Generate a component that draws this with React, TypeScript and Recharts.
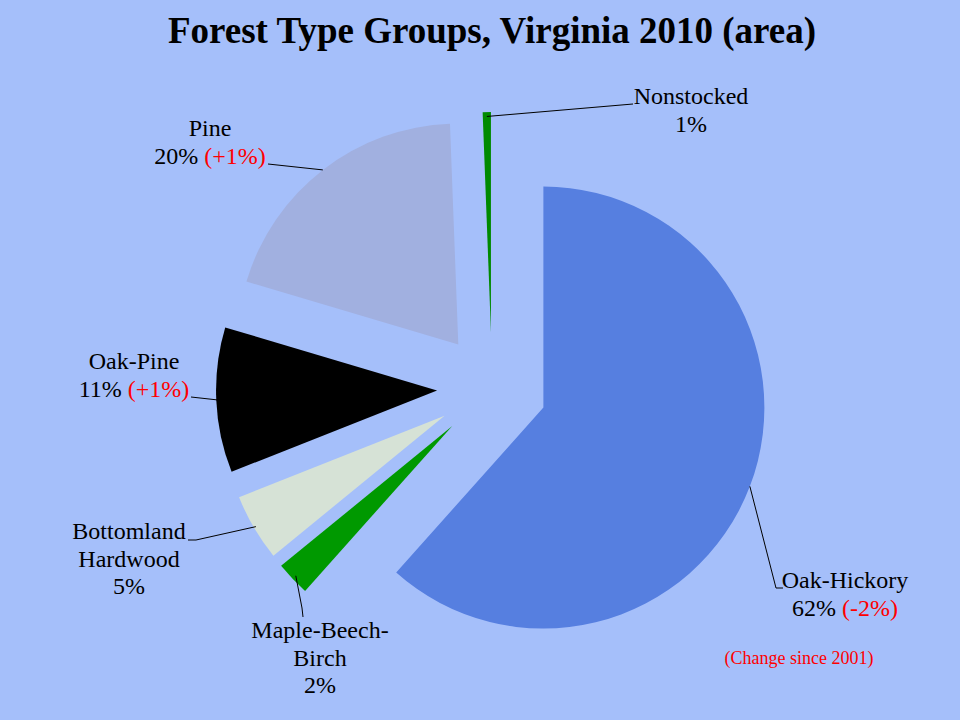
import { PieChart, Pie, Cell } from "recharts";

// forest type groups, clockwise from 12 o'clock
const categories = ["Oak-Hickory", "Maple-Beech-Birch", "Bottomland Hardwood", "Oak-Pine", "Pine", "Nonstocked"];
const areaShare = [61.6, 2.5, 4.9, 10.6, 19.8, 0.6];
const shareLabels = ["62%", "2%", "5%", "11%", "20%", "1%"];
const changeLabels = ["(-2%)", "", "", "(+1%)", "(+1%)", ""];
const nameLines = [["Oak-Hickory"], ["Maple-Beech-", "Birch"], ["Bottomland", "Hardwood"], ["Oak-Pine"], ["Pine"], ["Nonstocked"]];

const sliceColors = ["#567fe0", "#009900", "#d6e2d6", "#000000", "#a1b0e0", "#008a00"];
const BG = "#a5bffa";
const FONT = "'Liberation Serif', 'Times New Roman', serif";

const CX = 492;
const CY = 388;
const R = 221;
const EXPLODE = 55;
const RAD = Math.PI / 180;
const LINE_H = 27.7;

const pieData = categories.map((name, i) => ({ name, value: areaShare[i] }));

const total = areaShare.reduce((a, b) => a + b, 0);
const midAngles = areaShare.map((v, i) => {
  const before = areaShare.slice(0, i).reduce((a, b) => a + b, 0);
  return 90 - (360 * (before + v / 2)) / total;
});

// where each label sits and the text-side end of its leader line
const labelLayout = [
  { x: 845, y: 588, line: [[783, 588], [776, 588]], k: 1.0 },
  { x: 320, y: 638, line: [[303, 617], [302, 608]], k: 0.98 },
  { x: 129, y: 539, line: [[188, 540], [196, 540]], k: 0.99 },
  { x: 134, y: 369, line: [[191, 397]], k: 0.99 },
  { x: 210, y: 136, line: [[268, 164]], k: 1.0 },
  { x: 691, y: 104, line: [[633, 104]], k: 0.98 },
];

const renderLabel = (props: any, slice: number) => {
  if (props.index !== slice) return null;
  const lay = labelLayout[slice];
  const a = props.midAngle * RAD;
  const ax = props.cx + props.outerRadius * lay.k * Math.cos(a);
  const ay = props.cy - props.outerRadius * lay.k * Math.sin(a);
  const pts = [...lay.line, [ax, ay]].map((p) => p.join(",")).join(" ");
  const lines = nameLines[slice];
  return (
    <g key={`lbl-${slice}`}>
      <polyline points={pts} fill="none" stroke="#000" strokeWidth={1} />
      <text x={lay.x} y={lay.y} textAnchor="middle" fontFamily={FONT} fontSize={24} fill="#000">
        {lines.map((t, j) => (
          <tspan key={t} x={lay.x} dy={j === 0 ? 0 : LINE_H}>
            {t}
          </tspan>
        ))}
        <tspan x={lay.x} dy={LINE_H}>
          {shareLabels[slice]}
          {changeLabels[slice] && <tspan fill="#ff0000">{" " + changeLabels[slice]}</tspan>}
        </tspan>
      </text>
    </g>
  );
};

const App = () => {
  return (
    <div style={{ position: "absolute", left: 0, top: 0, width: 960, height: 720, background: BG, overflow: "hidden" }}>
      <PieChart width={960} height={720} margin={{ top: 0, right: 0, bottom: 0, left: 0 }}>
        {categories.map((name, i) => {
          const a = midAngles[i] * RAD;
          return (
            <Pie
              key={name}
              data={pieData}
              dataKey="value"
              nameKey="name"
              cx={CX + EXPLODE * Math.cos(a)}
              cy={CY - EXPLODE * Math.sin(a)}
              outerRadius={R}
              startAngle={90}
              endAngle={-270}
              stroke="none"
              isAnimationActive={false}
              labelLine={false}
              label={(p: any) => renderLabel(p, i)}
            >
              {pieData.map((d, j) => (
                <Cell key={d.name} fill={j === i ? sliceColors[i] : "transparent"} stroke="none" />
              ))}
            </Pie>
          );
        })}
      </PieChart>
      <svg width={960} height={720} style={{ position: "absolute", left: 0, top: 0, pointerEvents: "none" }}>
        <text x={492} y={43} textAnchor="middle" fontFamily={FONT} fontSize={37} fontWeight="bold" fill="#000">
          Forest Type Groups, Virginia 2010 (area)
        </text>
        <text x={799} y={664} textAnchor="middle" fontFamily={FONT} fontSize={18} fill="#ff0000">
          (Change since 2001)
        </text>
      </svg>
    </div>
  );
};

export default App;
